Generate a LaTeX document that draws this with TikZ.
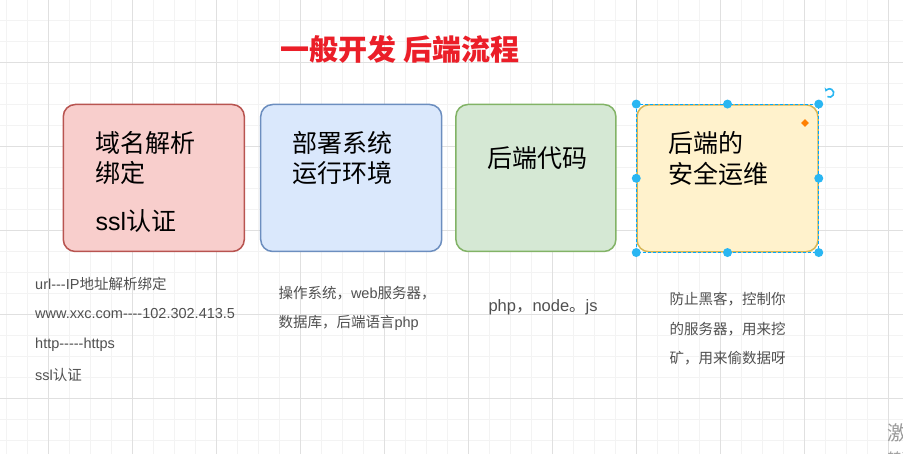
\documentclass[tikz,border=0pt]{standalone}
\usepackage{fontspec}
\newfontfamily\lat{Liberation Sans}
\newfontfamily\cjk{Noto Sans CJK SC}
\usetikzlibrary{shapes.geometric,arrows.meta}
\definecolor{majorgrid}{RGB}{224,224,224}
\definecolor{minorgrid}{RGB}{243,243,243}
\definecolor{redfill}{HTML}{F8CECC}\definecolor{redline}{HTML}{B85450}
\definecolor{bluefill}{HTML}{DAE8FC}\definecolor{blueline}{HTML}{6C8EBF}
\definecolor{greenfill}{HTML}{D5E8D4}\definecolor{greenline}{HTML}{82B366}
\definecolor{yellowfill}{HTML}{FFF2CC}\definecolor{yellowline}{HTML}{D6B656}
\definecolor{handleblue}{HTML}{29B6F2}
\definecolor{selblue}{HTML}{00A8FF}
\definecolor{titlered}{RGB}{235,30,40}
\definecolor{notegray}{RGB}{80,80,80}
\tikzset{
  box/.style={draw, rounded corners=12pt, line width=1.5pt, minimum width=181pt, minimum height=147pt, inner sep=0pt},
  btxt/.style={anchor=west, inner sep=0pt, font=\fontsize{25}{30}\selectfont\lat},
  note/.style={anchor=west, inner sep=0pt, text=notegray, font=\fontsize{14.5}{17}\selectfont\lat},
  handle/.style={circle, fill=handleblue, inner sep=0pt, minimum size=9pt},
}
\begin{document}
\begin{tikzpicture}[x=1pt,y=-1pt]
\useasboundingbox (0,0) rectangle (903,454);
\begin{scope}
\clip (0,0) rectangle (903,454);
\fill[white] (0,0) rectangle (903,454);
% grid
\foreach \i in {0,...,43} { \draw[minorgrid, line width=1pt] ({6.3+21*\i},0) -- ++(0,454); }
\foreach \j in {0,...,21} { \draw[minorgrid, line width=1pt] (0,{20.3+21*\j}) -- ++(903,0); }
\foreach \i in {0,...,10} { \draw[majorgrid, line width=1pt] ({48.3+84*\i},0) -- ++(0,454); }
\foreach \j in {0,...,4} { \draw[majorgrid, line width=1pt] (0,{62.3+84*\j}) -- ++(903,0); }

% title
\node[anchor=west, inner sep=0pt, text=titlered, font=\fontsize{29}{33}\selectfont\cjk\bfseries] (title) at (280.7,49) {一般开发 后端流程};

% boxes
\node[box, fill=redfill, draw=redline] (b1) at (153.8,178) {};
\node[box, fill=bluefill, draw=blueline] (b2) at (351.2,178) {};
\node[box, fill=greenfill, draw=greenline, minimum width=160pt] (b3) at (535.9,178) {};
\node[box, fill=yellowfill, draw=yellowline] (b4) at (727.5,178.3) {};

% box texts
\node[btxt] (t1a) at (95.5,143) {\cjk 域名解析};
\node[btxt] (t1b) at (95.5,173) {\cjk 绑定};
\node[btxt] (t1c) at (95.5,221) {ssl{\cjk 认证}};
\node[btxt] (t2a) at (292.5,143) {\cjk 部署系统};
\node[btxt] (t2b) at (292.5,173) {\cjk 运行环境};
\node[btxt] (t3a) at (487.5,157.7) {\cjk 后端代码};
\node[btxt] (t4a) at (668.3,143.3) {\cjk 后端的};
\node[btxt] (t4b) at (668.3,174.3) {\cjk 安全运维};

% notes
\node[note] (n1a) at (35,284) {url---IP{\cjk 地址解析绑定}};
\node[note] (n1b) at (35,313.3) {www.xxc.com----102.302.413.5};
\node[note] (n1c) at (35,345) {http-----https};
\node[note] (n1d) at (35,375) {ssl{\cjk 认证}};
\node[note] (n2a) at (278.3,293.3) {{\cjk 操作系统，}web{\cjk 服务器，}};
\node[note] (n2b) at (278.3,323.3) {{\cjk 数据库，后端语言}php};
\node[note, font=\fontsize{16.5}{19}\selectfont\lat] (n3a) at (488.3,307.3) {php{\cjk ，}node{\cjk 。}js};
\node[note] (n4a) at (669.3,299.3) {\cjk 防止黑客，控制你};
\node[note] (n4b) at (669.3,329.5) {\cjk 的服务器，用来挖};
\node[note] (n4c) at (669.3,358.3) {\cjk 矿，用来偷数据呀};

% selection decorations on box 4
\draw[selblue, line width=0.8pt, dash pattern=on 3pt off 2pt] (b4.north west) rectangle (b4.south east);
\node[handle] (h1) at (b4.north west) {};
\node[handle] (h2) at (b4.north) {};
\node[handle] (h3) at (b4.north east) {};
\node[handle] (h4) at (b4.west) {};
\node[handle] (h5) at (b4.east) {};
\node[handle] (h6) at (b4.south west) {};
\node[handle] (h7) at (b4.south) {};
\node[handle] (h8) at (b4.south east) {};
\node[diamond, fill=orange, inner sep=0pt, minimum size=8pt] (dia) at (805,123) {};
\coordinate (rot) at (829.5,93);
\draw[handleblue, line width=1.6pt, -{Stealth[length=3.5pt,width=4.5pt]}] ([shift={(120:4.2)}]rot) arc[start angle=120, end angle=-160, radius=4.2];

% watermark (clipped at the edge, as in the reference)
\node[anchor=north west, inner sep=0pt, text=black!40, font=\fontsize{20}{24}\selectfont\cjk] (wm1) at (887.5,423) {激活 Windows};
\node[anchor=north west, inner sep=0pt, text=black!40, font=\fontsize{14}{17}\selectfont\cjk] (wm2) at (887.5,451.5) {转到设置以激活 Windows};
\end{scope}
\end{tikzpicture}
\end{document}
